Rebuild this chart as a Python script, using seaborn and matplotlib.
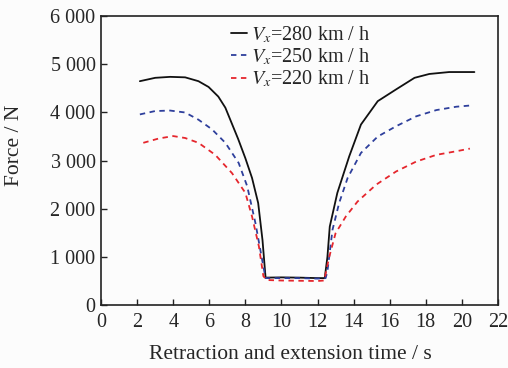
import matplotlib
matplotlib.use("Agg", force=True)
import matplotlib.pyplot as plt
import pandas as pd
import seaborn as sns

# series
t_280 = [2.15, 3.0, 3.83, 4.66, 5.4, 5.96, 6.5, 6.89, 7.6, 8.0, 8.37, 8.71, 8.95, 9.12,
         10.0, 11.0, 12.0, 12.4, 12.55, 12.68, 13.1, 13.76, 14.41, 15.34, 16.36, 17.38,
         18.2, 19.3, 20.7]
f_280 = [4650, 4720, 4740, 4730, 4650, 4530, 4330, 4100, 3450, 3050, 2640, 2120, 1350, 570,
         575, 570, 560, 560, 1000, 1630, 2330, 3090, 3750, 4235, 4480, 4720,
         4800, 4840, 4840]

t_250 = [2.15, 3.0, 3.83, 4.66, 5.4, 6.15, 6.89, 7.63, 8.1, 8.56, 8.93, 9.12,
         10.0, 11.0, 12.0, 12.45, 12.55, 12.83, 13.2, 13.67, 14.41, 15.34, 16.36, 17.47,
         18.59, 19.7, 20.63]
f_250 = [3960, 4030, 4040, 4000, 3850, 3650, 3370, 2950, 2470, 1700, 940, 560,
         560, 560, 550, 560, 700, 1560, 2120, 2640, 3160, 3500, 3715, 3920,
         4050, 4120, 4150]

t_220 = [2.34, 3.2, 4.0, 4.66, 5.4, 6.33, 7.26, 8.0, 8.37, 8.75, 9.0, 9.2,
         10.0, 11.0, 12.0, 12.37, 12.65, 13.0, 13.57, 14.22, 15.25, 16.36, 17.47,
         18.59, 19.7, 20.45]
f_220 = [3370, 3460, 3510, 3470, 3370, 3120, 2740, 2330, 1840, 1220, 600, 520,
         510, 505, 500, 510, 1000, 1490, 1840, 2150, 2500, 2775, 2980, 3120, 3195, 3250]

labels = [r"$V_x$=280 km / h", r"$V_x$=250 km / h", r"$V_x$=220 km / h"]
colors = ["#111111", "#2e3f9c", "#e5262d"]
dashes = ["-", (0, (3, 2.5)), (0, (3, 2.5))]

x_ticks = list(range(0, 23, 2))
y_ticks = [0, 1000, 2000, 3000, 4000, 5000, 6000]
y_tick_labels = ["0", "1 000", "2 000", "3 000", "4 000", "5 000", "6 000"]


def main() -> None:
    sns.set_style("ticks")
    plt.rcParams["font.family"] = ["Liberation Serif", "DejaVu Serif"]
    plt.rcParams["mathtext.fontset"] = "stix"
    plt.rcParams["xtick.direction"] = "in"
    plt.rcParams["ytick.direction"] = "in"

    fig = plt.figure(figsize=(5.08, 3.68), dpi=100, facecolor="#fcfcfc")
    ax = fig.add_axes([0.199, 0.171, 0.781, 0.785])
    ax.set_facecolor("#fcfcfc")

    series = [(t_280, f_280), (t_250, f_250), (t_220, f_220)]
    for (t, f), lab, col, ls in zip(series, labels, colors, dashes):
        df = pd.DataFrame({"time": t, "force": f})
        sns.lineplot(data=df, x="time", y="force", ax=ax, color=col, lw=1.3,
                     linestyle=ls, label=lab, sort=False)

    ax.set_xlim(0, 22)
    ax.set_ylim(0, 6000)
    ax.set_xticks(x_ticks)
    ax.set_yticks(y_ticks)
    ax.set_yticklabels(y_tick_labels)
    ax.tick_params(labelsize=14.5, length=4, width=1, color="#222222", pad=4)
    ax.tick_params(axis="x", pad=6)
    for s in ax.spines.values():
        s.set_linewidth(1.2)
        s.set_color("#222222")
    ax.set_xlabel("Retraction and extension time / s", fontsize=15.5)
    ax.set_ylabel("Force / N", fontsize=15.5)
    ax.xaxis.set_label_coords(0.476, -0.138)
    ax.yaxis.set_label_coords(-0.194, 0.554)

    ax.legend(loc="upper left", bbox_to_anchor=(0.307, 1.0), frameon=False,
              fontsize=14.5, handlelength=0.8, handletextpad=0.2, labelspacing=0.08,
              borderaxespad=0)

    fig.savefig("out.png", dpi=100, facecolor=fig.get_facecolor())
    plt.close(fig)


if __name__ == "__main__":
    main()
